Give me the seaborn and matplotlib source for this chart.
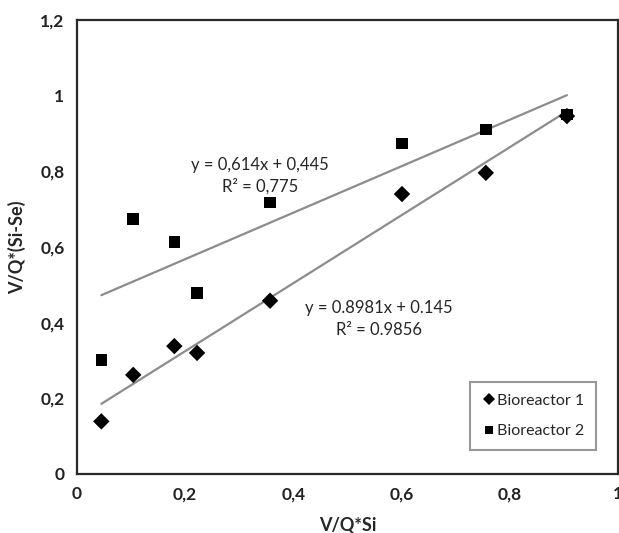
import numpy as np
import pandas as pd
import matplotlib
matplotlib.use("Agg")
import matplotlib.pyplot as plt
import seaborn as sns
from matplotlib.ticker import FuncFormatter, MultipleLocator

# ------------------ Veri ------------------
x_b1 = [0.045, 0.104, 0.180, 0.222, 0.357, 0.601, 0.756, 0.906]
y_b1 = [0.139, 0.262, 0.338, 0.320, 0.458, 0.740, 0.796, 0.946]

x_b2 = [0.045, 0.104, 0.180, 0.222, 0.357, 0.601, 0.756, 0.906]
y_b2 = [0.302, 0.674, 0.613, 0.479, 0.718, 0.874, 0.911, 0.950]

series_names = ["Bioreactor 1", "Bioreactor 2"]
fit_b1 = (0.8981, 0.145)
fit_b2 = (0.614, 0.445)
eq_b1 = ["y = 0.8981x + 0.145", "R² = 0.9856"]
eq_b2 = ["y = 0,614x + 0,445", "R² = 0,775"]

# ------------------ Çizim ------------------
sns.set_style("white")
plt.rcParams['font.family'] = ['Lato', 'DejaVu Sans']

df = pd.DataFrame({
    "x": x_b1 + x_b2,
    "y": y_b1 + y_b2,
    "series": [series_names[0]] * len(x_b1) + [series_names[1]] * len(x_b2),
})

fig = plt.figure(figsize=(6.19, 5.33), dpi=100)
ax = fig.add_axes([0.1244, 0.1107, 0.8736, 0.8518])

# trend lines from stated equations
for xs, (m, c) in [(x_b1, fit_b1), (x_b2, fit_b2)]:
    xl = np.array([min(xs), max(xs)])
    sns.lineplot(x=xl, y=m * xl + c, ax=ax, color="#8c8c8c", linewidth=1.6)

sns.scatterplot(data=df, x="x", y="y", style="series",
                markers={series_names[0]: "D", series_names[1]: "s"},
                color="black", s=70, edgecolor="black", linewidth=0,
                ax=ax, zorder=3)

ax.set_xlim(0, 1)
ax.set_ylim(0, 1.2)
ax.xaxis.set_major_locator(MultipleLocator(0.2))
ax.yaxis.set_major_locator(MultipleLocator(0.2))


def comma_fmt(v, p):
    if abs(v - round(v)) < 1e-9:
        return f"{int(round(v))}"
    return f"{v:.1f}".replace(".", ",")


ax.xaxis.set_major_formatter(FuncFormatter(comma_fmt))
ax.yaxis.set_major_formatter(FuncFormatter(comma_fmt))

ax.tick_params(axis="both", direction="out", length=5, width=1.2, color="#333333",
               labelsize=12.5, pad=4)
for lab in ax.get_xticklabels() + ax.get_yticklabels():
    lab.set_fontweight("bold")
    lab.set_color("#222222")

for sp in ax.spines.values():
    sp.set_color("#2a2a2a")
    sp.set_linewidth(1.6)

ax.set_xlabel("V/Q*Si", fontsize=13, fontweight="bold", labelpad=10)
ax.set_ylabel("V/Q*(Si-Se)", fontsize=13, fontweight="bold", labelpad=10)

ax.text(0.338, 0.818, eq_b2[0], ha="center", va="center", fontsize=12)
ax.text(0.338, 0.760, eq_b2[1], ha="center", va="center", fontsize=12)
ax.text(0.558, 0.438, eq_b1[0], ha="center", va="center", fontsize=12)
ax.text(0.558, 0.381, eq_b1[1], ha="center", va="center", fontsize=12)

handles, labels = ax.get_legend_handles_labels()
leg = ax.legend(handles=handles, labels=labels, loc="lower right",
                bbox_to_anchor=(0.975, 0.035), frameon=True, fancybox=False,
                fontsize=11.5, handletextpad=0.05, borderpad=0.75, labelspacing=1.0,
                handlelength=0.9, markerscale=0.75)
leg.get_frame().set_edgecolor("#7f7f7f")
leg.get_frame().set_linewidth(1.5)

fig.savefig("out.png", dpi=100)
